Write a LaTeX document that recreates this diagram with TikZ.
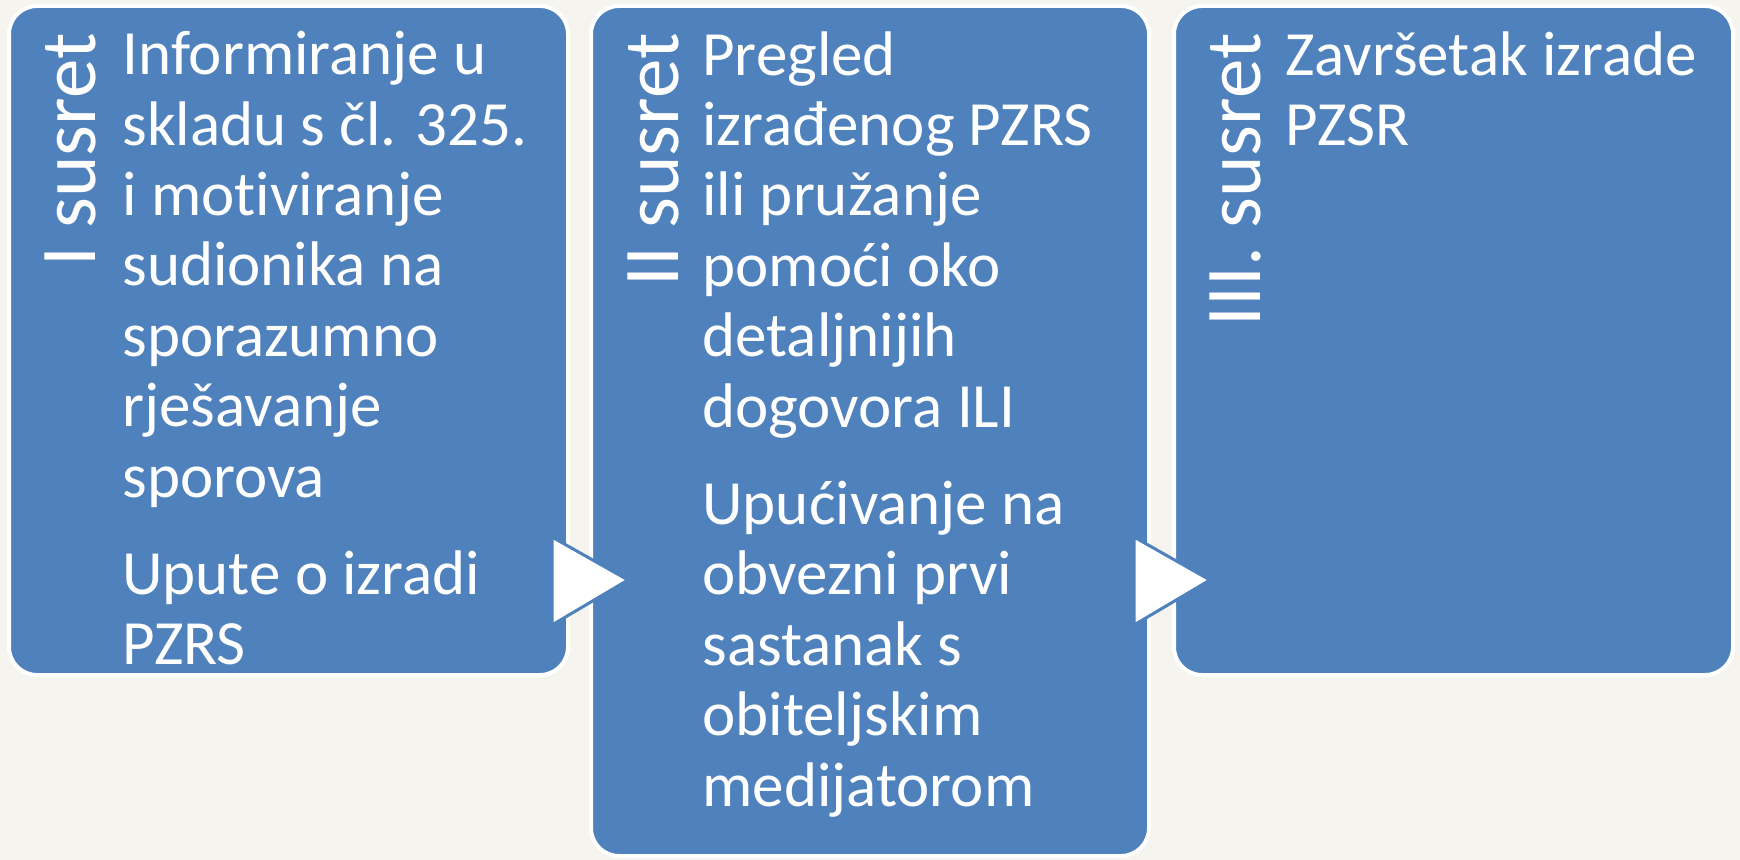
\documentclass[tikz,border=0pt]{standalone}
\usepackage{fontspec}
\setmainfont{Carlito}[Ligatures=NoCommon]
\definecolor{bgc}{HTML}{F5F4EF}
\definecolor{blu}{HTML}{4F81BD}
\begin{document}
\begin{tikzpicture}[x=0.5pt,y=-0.5pt,
  box/.style={draw=white, line width=2pt, fill=blu, rounded corners=14pt, inner sep=0pt, outer sep=0pt, anchor=north west},
  txt/.style={text=white, font=\fontsize{31.5pt}{35.2pt}\selectfont, align=left, inner sep=0pt, anchor=north west},
  lab/.style={text=white, font=\fontsize{39.5pt}{45pt}\selectfont, rotate=90, inner sep=0pt, anchor=base east},
  tri/.style={fill=white, draw=blu, line width=1.5pt, line join=miter}]
\fill[bgc] (0,0) rectangle (1740,860);
\useasboundingbox (0,0) rectangle (1740,860);
\node[box, minimum width=279.5pt, minimum height=334.5pt] (b1) at (9,6) {};
\node[box, minimum width=279pt, minimum height=425pt] (b2) at (591,6) {};
\node[box, minimum width=279.5pt, minimum height=334.5pt] (b3) at (1174,6) {};
\coordinate (t1) at (628,580);
\coordinate (t2) at (1210,580);
\draw[tri] (552,537) -- (t1) -- (552,625) -- cycle;
\draw[tri] (1134,537) -- (t2) -- (1134,625) -- cycle;
\node[lab] (l1) at (95,33) {I susret};
\node[lab] (l2) at (678,33) {II susret};
\node[lab] (l3) at (1260,33) {III. susret};
\node[txt] (x1) at (122,31) {Informiranje u\\skladu s čl. 325.\\i motiviranje\\sudionika na\\sporazumno\\rješavanje\\sporova\\[13.5pt]Upute o izradi\\PZRS};
\node[txt] (x2) at (702,31) {Pregled\\izrađenog PZRS\\ili pružanje\\pomoći oko\\detaljnijih\\dogovora ILI\\[13.5pt]Upućivanje na\\obvezni prvi\\sastanak s\\obiteljskim\\medijatorom};
\node[txt] (x3) at (1285,31) {Završetak izrade\\PZSR};
\end{tikzpicture}
\end{document}
